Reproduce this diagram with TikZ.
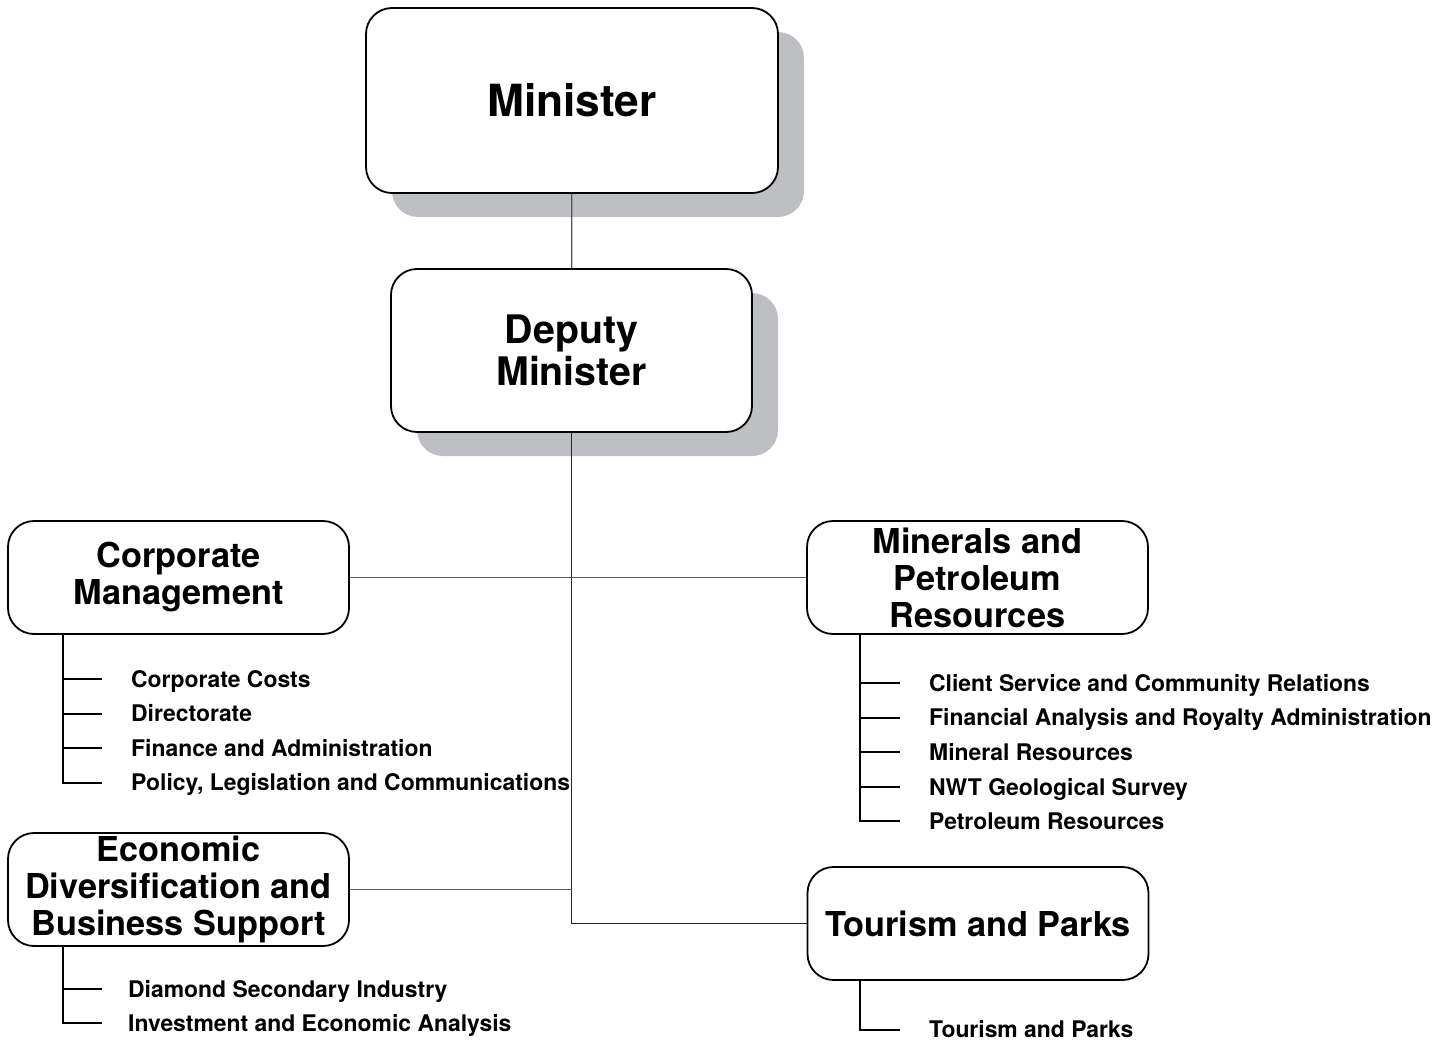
\documentclass[tikz,border=0pt]{standalone}
\usepackage{fontspec}
\setmainfont{TeX Gyre Heros}
\usepackage{xcolor}
\definecolor{shadowgray}{RGB}{190,191,195}
\definecolor{linkgray}{RGB}{85,85,85}
\usetikzlibrary{positioning,shadows,calc}

\begin{document}
\begin{tikzpicture}[x=1pt,y=-1pt,
    orgbox/.style={draw=black,line width=1.8pt,rounded corners=26pt,fill=white,
      align=center,inner sep=0pt,minimum width=341pt,minimum height=113pt,
      font=\bfseries\fontsize{34.3}{37}\selectfont},
    boxshadow/.style={general shadow={fill=shadowgray,draw=none,
      shadow xshift=26pt,shadow yshift=-24pt}},
    subitem/.style={anchor=west,inner sep=0pt,text height=16.4pt,text depth=0pt,
      font=\bfseries\fontsize{22.9}{26}\selectfont},
    tick/.style={line width=2pt,black},
    link/.style={line width=1.3pt,linkgray}]
  \useasboundingbox (0,0) rectangle (1451,1041);

  %% Top of the chart
  \node[orgbox,boxshadow,minimum width=412pt,minimum height=185pt,
        font=\bfseries\fontsize{44.3}{48}\selectfont] (min) at (572,100.5) {Minister};
  \node[orgbox,boxshadow,minimum width=361pt,minimum height=163pt,
        font=\bfseries\fontsize{39.3}{42}\selectfont] (dep) at (571.5,350.5) {Deputy\\Minister};

  %% Divisions
  \node[orgbox] (cm) at (178.5,577.5) {Corporate\\Management};
  \node[orgbox] (mp) at (977.5,577.5) {Minerals and\\Petroleum\\Resources};
  \node[orgbox] (ed) at (178.5,889.5) {Economic\\Diversification and\\Business Support};
  \node[orgbox] (tp) at (978,923.5) {Tourism and Parks};

  %% Reporting lines
  \draw[link] (min) -- (dep);
  \draw[link,black!85] (dep.south) |- (tp.west);
  \draw[link] (cm) -- (mp);
  \draw[link] (ed.east) -- (ed.east -| dep.south);

  %% Corporate Management units
  \foreach \lbl [count=\i] in {Corporate Costs, Directorate, Finance and Administration,
                               {Policy, Legislation and Communications}}{
    \node[subitem] (cm\i) at (131,644.5+34.5*\i) {\lbl};
  }
  \coordinate (cmtrunk) at (63,634);
  \draw[tick] (cmtrunk) |- ($(cm4.west)+(-29,0)$);
  \foreach \i in {1,2,3}{
    \draw[tick] (cmtrunk |- cm\i.west) -- ++(39,0);
  }

  %% Minerals and Petroleum Resources units
  \foreach \lbl [count=\i] in {Client Service and Community Relations,
                               Financial Analysis and Royalty Administration,
                               Mineral Resources, NWT Geological Survey,
                               Petroleum Resources}{
    \node[subitem] (mp\i) at (929,648.4+34.6*\i) {\lbl};
  }
  \coordinate (mptrunk) at (860,634);
  \draw[tick] (mptrunk) |- ($(mp5.west)+(-29,0)$);
  \foreach \i in {1,...,4}{
    \draw[tick] (mptrunk |- mp\i.west) -- ++(40,0);
  }

  %% Economic Diversification units
  \foreach \lbl [count=\i] in {Diamond Secondary Industry,
                               Investment and Economic Analysis}{
    \node[subitem] (ed\i) at (128,955+34*\i) {\lbl};
  }
  \coordinate (edtrunk) at (63,946);
  \draw[tick] (edtrunk) |- ($(ed2.west)+(-26,0)$);
  \draw[tick] (edtrunk |- ed1.west) -- ++(39,0);

  %% Tourism and Parks unit
  \node[subitem] (tp1) at (929,1029.5) {Tourism and Parks};
  \coordinate (tptrunk) at (860,980);
  \draw[tick] (tptrunk) |- ($(tp1.west)+(-29,0)$);
\end{tikzpicture}
\end{document}
